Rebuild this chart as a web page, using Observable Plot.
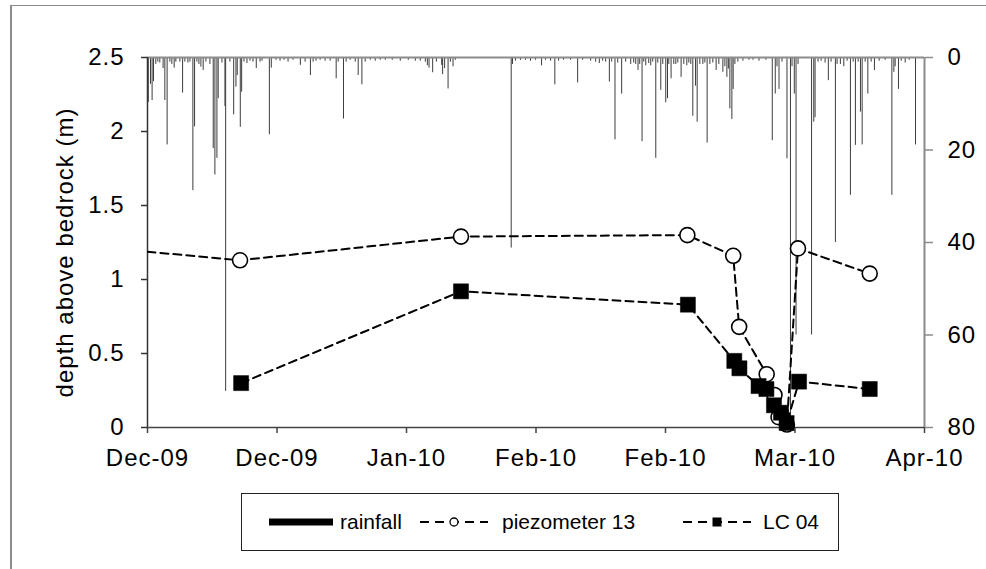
<!DOCTYPE html>
<html>
<head>
<meta charset="utf-8">
<script src="https://cdn.jsdelivr.net/npm/d3@7"></script>
<script src="https://cdn.jsdelivr.net/npm/@observablehq/plot@0.6"></script>
<style>
  html, body { margin: 0; padding: 0; background: #fff; }
  #fig { position: relative; width: 986px; height: 569px; overflow: hidden;
         font-family: "Liberation Sans", Arial, sans-serif; }
  #frame { position: absolute; left: 10px; top: 5px; width: 1000px; height: 600px;
           border-left: 2px solid #8c8c8c; border-top: 1px solid #8c8c8c; }
  #chart { position: absolute; left: 0; top: 0; }
  #legend { position: absolute; left: 241px; top: 493px; width: 598px; height: 58px;
            border: 1px solid #222; box-sizing: border-box; }
  .item { position: absolute; top: 0; height: 56px; display: flex; align-items: center; }
  .item span { font-size: 21px; color: #000; white-space: nowrap; }
  .item svg { display: block; }
</style>
</head>
<body>
<div id="fig">
  <div id="frame"></div>
  <div id="chart"></div>
  <div id="legend"></div>
</div>
<script>
// Axis window and tick dates (20-day spacing)
const startDate = "2009-12-03T00:00Z";
const endDate = "2010-04-02T00:00Z";
const xTickDates = ["2009-12-03", "2009-12-23", "2010-01-12", "2010-02-01", "2010-02-21", "2010-03-13", "2010-04-02"];
const depthTicks = [0, 0.5, 1, 1.5, 2, 2.5];
const rainTicks = [0, 20, 40, 60, 80];

// Rainfall record: time in days after 3 Dec 2009, and amount
const rainDays = [0.12,0.46,0.71,0.93,1.28,1.59,1.90,2.41,2.68,3.03,3.45,3.76,4.12,4.38,5.00,5.42,5.77,6.24,6.55,7.01,
  7.27,7.63,7.94,8.25,8.60,9.02,9.64,10.15,10.41,10.72,10.92,11.50,11.96,12.07,12.73,13.31,13.66,13.86,14.33,14.54,
  14.90,15.36,15.83,16.29,16.80,17.38,17.69,18.82,19.12,19.85,20.47,21.09,21.71,22.48,23.61,24.34,25.16,25.58,26.04,26.66,
  27.43,28.21,29.14,29.45,30.27,30.68,31.30,32.08,32.54,33.11,33.62,34.40,35.17,35.94,36.72,37.80,39.04,40.28,41.36,42.13,
  42.91,43.22,43.48,44.04,44.61,45.43,45.58,45.89,46.42,46.78,47.19,47.55,
  56.17,56.37,56.83,57.61,58.38,59.15,59.93,60.86,61.47,62.25,62.91,63.49,64.26,65.34,66.43,67.20,68.44,69.21,69.78,70.29,
  70.76,71.33,71.69,72.20,72.62,73.23,73.85,74.63,75.09,75.40,75.76,76.02,76.38,76.64,76.95,77.41,77.72,78.03,78.50,78.81,
  79.27,79.58,80.04,80.31,80.51,80.86,81.28,81.59,81.90,82.41,82.83,83.29,83.60,83.91,84.22,84.64,84.89,85.30,85.77,86.08,
  86.43,86.85,87.31,87.82,88.24,88.86,89.17,89.48,89.71,89.94,90.25,90.45,90.72,91.18,91.96,92.89,93.51,94.44,95.51,96.49,
  96.95,97.22,97.53,97.99,98.76,99.30,99.54,99.89,100.16,100.47,102.56,102.90,103.10,103.56,104.03,104.65,105.15,105.57,106.24,106.50,
  107.01,107.54,108.05,108.56,108.98,109.33,109.75,110.11,110.37,110.84,111.25,111.76,112.27,113.00,113.93,114.96,115.27,115.47,115.98,116.40,
  117.02,117.64,118.61];
const rainMm = [9.7,5.8,9.3,5.2,1.5,1,1.2,2.4,9.3,18.9,1,1.5,2.3,1,1,7.7,1,1.2,1,28.8,
  15,1,1.5,2.1,2.8,1,1.5,19.7,25.4,21.8,8.9,1.2,10.6,72.2,1,12.4,6.4,3.9,15.1,7.5,
  1,1.3,0.8,1,2.4,1,0.8,16.7,2.3,0.6,0.8,0.6,1,0.6,1.7,1,3.9,1,0.8,0.6,
  0.8,0.8,4.6,1,13.3,1,0.6,1,3.9,5.9,1,0.6,0.8,0.6,0.6,0.6,0.8,0.6,0.8,0.8,
  1,1.8,2.3,3.3,1,1.7,3.7,2.4,6.8,1,2,0.6,
  41.2,1.5,0.8,0.6,0.6,0.8,0.6,1.8,0.6,0.8,5.9,0.8,0.6,0.6,5.5,0.6,0.8,1,1.3,0.8,
  1,5.3,1,17.8,1.2,7.9,1,1.5,1.2,1.5,2.8,1.5,18.2,1,1.8,1.3,1.8,1,21.8,1.2,
  7.1,1.5,9.8,8.9,1.5,4.6,1.5,1.5,1.2,4.3,1.5,1.8,1.2,1.5,12.7,6.2,14,1.5,1.5,1.2,
  18.5,1.5,1.2,2.8,1.5,3.2,2,4.3,2.5,11.1,13.4,6.9,1.5,1,0.8,0.6,0.6,0.8,0.6,18,
  7.9,2,6.9,1,21.9,78,2,7.9,60,1.5,60,14,13,1,0.8,1.2,5,1,40,1.5,
  1.5,2,0.8,29.8,1,19,1,11.8,18.9,1,7.9,1,2.8,0.8,0.6,29.8,3.2,2,6.9,0.8,
  1.2,0.6,18.9];

// Groundwater level above bedrock (m)
const piezoTime = ["2009-11-25T00:00Z","2009-12-17T07:00Z","2010-01-20T10:00Z","2010-02-24T09:00Z","2010-03-03T11:00Z",
  "2010-03-04T09:00Z","2010-03-08T15:00Z","2010-03-09T20:00Z","2010-03-10T11:00Z","2010-03-11T18:00Z",
  "2010-03-13T11:00Z","2010-03-24T13:00Z"];
const piezoDepth = [1.22,1.13,1.29,1.30,1.16,0.68,0.36,0.22,0.07,0.02,1.21,1.04];

const lc04Time = ["2009-12-17T11:00Z","2010-01-20T10:00Z","2010-02-24T11:00Z","2010-03-03T15:00Z","2010-03-04T10:00Z",
  "2010-03-07T09:00Z","2010-03-08T14:00Z","2010-03-09T18:00Z","2010-03-10T20:00Z","2010-03-11T17:00Z",
  "2010-03-13T15:00Z","2010-03-24T13:00Z"];
const lc04Depth = [0.30,0.92,0.83,0.45,0.40,0.28,0.26,0.15,0.10,0.03,0.31,0.26];

const seriesNames = ["rainfall", "piezometer 13", "LC 04"];

// ---- build tables ----
const t0 = new Date(startDate), t1 = new Date(endDate);
const rain = rainDays.map((d, i) => ({t: new Date(t0.getTime() + d * 864e5), mm: rainMm[i]}));
const piezo = piezoTime.map((s, i) => ({t: new Date(s), v: piezoDepth[i]}));
const lc04 = lc04Time.map((s, i) => ({t: new Date(s), v: lc04Depth[i]}));
const xTicks = xTickDates.map(s => new Date(s + "T00:00Z"));

// rainfall hangs from the top on a reversed secondary axis (0 at top, 80 at bottom)
const rainToDepth = d3.scaleLinear().domain([0, 80]).range([2.5, 0]);

const dash = "8,5";
const chart = Plot.plot({
  width: 986,
  height: 470,
  marginLeft: 147,
  marginRight: 62,
  marginTop: 57,
  marginBottom: 43,
  style: {fontFamily: '"Liberation Sans", Arial, sans-serif', fontSize: "24px", letterSpacing: "1px",
          color: "#000", background: "transparent", overflow: "visible"},
  x: {type: "utc", domain: [t0, t1]},
  y: {domain: [0, 2.5]},
  marks: [
    Plot.ruleX(rain, {x: "t", y1: () => 2.5, y2: d => rainToDepth(d.mm), stroke: "#3c3c3c", strokeWidth: 1}),
    Plot.ruleY([2.5], {stroke: "#8c8c8c", strokeWidth: 2}),
    Plot.ruleX([t1], {stroke: "#8c8c8c", strokeWidth: 2}),
    Plot.ruleX([t0], {stroke: "#333", strokeWidth: 1.5}),
    Plot.ruleY([0], {stroke: "#444", strokeWidth: 1.5}),
    Plot.axisX({ticks: xTicks, tickFormat: d3.utcFormat("%b-%y"), tickSize: 6, tickPadding: 15,
                label: null, stroke: "#444", strokeWidth: 1.5, fill: "#000"}),
    Plot.axisY({anchor: "left", ticks: depthTicks, tickFormat: d => String(d), tickSize: 6, tickPadding: 17,
                label: null, stroke: "#333", strokeWidth: 1.5, fill: "#000"}),
    Plot.axisY({anchor: "right", ticks: rainTicks.map(r => rainToDepth(r)),
                tickFormat: d => String(Math.round(rainToDepth.invert(d))), tickSize: 8, tickPadding: 15,
                label: null, stroke: "#8c8c8c", strokeWidth: 1.5, fill: "#000"}),
    Plot.text(["depth above bedrock (m)"], {frameAnchor: "left", text: d => d, rotate: -90, dx: -82, dy: 10,
                textAnchor: "middle", lineAnchor: "middle", fill: "#000"}),
    Plot.line(piezo, {x: "t", y: "v", stroke: "#000", strokeWidth: 2, strokeDasharray: dash, clip: true}),
    Plot.line(lc04, {x: "t", y: "v", stroke: "#000", strokeWidth: 2, strokeDasharray: dash, clip: true}),
    Plot.dot(piezo.filter(d => d.t >= t0), {x: "t", y: "v", r: 7.5, fill: "#fff", stroke: "#000", strokeWidth: 1.6}),
    Plot.dot(lc04.filter(d => d.t >= t0), {x: "t", y: "v", symbol: "square", r: 8.5, fill: "#000", stroke: "#000", strokeWidth: 0.5})
  ]
});
document.getElementById("chart").appendChild(chart);

// ---- legend ----
const legend = document.getElementById("legend");
const ns = "http://www.w3.org/2000/svg";
function swatch(kind) {
  const w = kind === "rainfall" ? 64 : 68;
  const svg = document.createElementNS(ns, "svg");
  svg.setAttribute("width", w); svg.setAttribute("height", 20);
  if (kind === "rainfall") {
    const r = document.createElementNS(ns, "rect");
    r.setAttribute("x", 0); r.setAttribute("y", 6.5); r.setAttribute("width", w); r.setAttribute("height", 7);
    r.setAttribute("fill", "#000");
    svg.appendChild(r);
  } else {
    const l = document.createElementNS(ns, "line");
    l.setAttribute("x1", 0); l.setAttribute("x2", w); l.setAttribute("y1", 10); l.setAttribute("y2", 10);
    l.setAttribute("stroke", "#000"); l.setAttribute("stroke-width", 2); l.setAttribute("stroke-dasharray", "9,6");
    svg.appendChild(l);
    if (kind === "piezometer 13") {
      const c = document.createElementNS(ns, "circle");
      c.setAttribute("cx", w / 2); c.setAttribute("cy", 10); c.setAttribute("r", 4);
      c.setAttribute("fill", "#fff"); c.setAttribute("stroke", "#000"); c.setAttribute("stroke-width", 1.3);
      svg.appendChild(c);
    } else {
      const s = document.createElementNS(ns, "rect");
      s.setAttribute("x", w / 2 - 4.5); s.setAttribute("y", 5.5); s.setAttribute("width", 9); s.setAttribute("height", 9);
      s.setAttribute("fill", "#000");
      svg.appendChild(s);
    }
  }
  return svg;
}
const itemLeft = [27, 178, 441];
const textGap = [7, 14, 12];
seriesNames.forEach((name, i) => {
  const div = document.createElement("div");
  div.className = "item";
  div.style.left = itemLeft[i] + "px";
  div.appendChild(swatch(name));
  const span = document.createElement("span");
  span.textContent = name;
  span.style.marginLeft = textGap[i] + "px";
  div.appendChild(span);
  legend.appendChild(div);
});
</script>
</body>
</html>
